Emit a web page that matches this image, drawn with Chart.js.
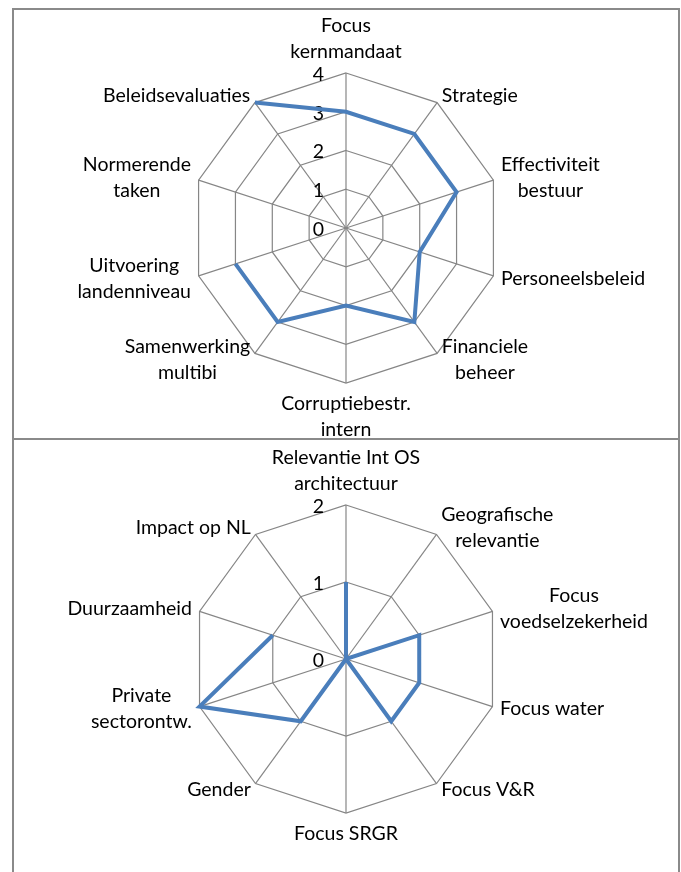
<!DOCTYPE html>
<html>
<head>
<meta charset="utf-8">
<script src="https://cdn.jsdelivr.net/npm/chart.js@4.4.1/dist/chart.umd.min.js"></script>
<style>
  html, body { margin: 0; padding: 0; background: #fff; width: 681px; height: 872px; overflow: hidden; }
  .box { position: absolute; box-sizing: border-box; border: 2px solid #8a8a8a; background: #fff; }
  canvas { position: absolute; }
</style>
</head>
<body>
<div class="box" style="left:12px; top:8px; width:668px; height:433px;"></div>
<div class="box" style="left:12px; top:438px; width:668px; height:460px;"></div>
<canvas id="c1" width="664" height="430" style="left:14px; top:10px;"></canvas>
<canvas id="c2" width="664" height="432" style="left:14px; top:440px;"></canvas>
<script>
// ---- Data: top chart ----
const topCategories = [
  ["Focus", "kernmandaat"], "Strategie", ["Effectiviteit", "bestuur"], "Personeelsbeleid",
  ["Financiele", "beheer"], ["Corruptiebestr.", "intern"], ["Samenwerking", "multibi"],
  ["Uitvoering", "landenniveau"], ["Normerende", "taken"], "Beleidsevaluaties"
];
const topValues = [3, 3, 3, 2, 3, 2, 3, 3, null, 4];
const topTicks = [0, 1, 2, 3, 4];

// ---- Data: bottom chart ----
const bottomCategories = [
  ["Relevantie Int OS", "architectuur"], ["Geografische", "relevantie"], ["Focus", "voedselzekerheid"],
  "Focus water", "Focus V&R", "Focus SRGR", "Gender", ["Private", "sectorontw."],
  "Duurzaamheid", "Impact op NL"
];
const bottomValues = [1, 0, 1, 1, 1, 0, 1, 2, 1, null];
const bottomTicks = [0, 1, 2];

const FONT_FAMILY = "Lato, 'Open Sans', sans-serif";
const FONT_SIZE = 19.5;
const LINE_H = 26;
const GRID = '#868686';
const LINE_COLOR = '#4A7EBB';

const excelLabels = {
  id: 'excelLabels',
  beforeDatasetsDraw(chart) {
    const scale = chart.scales.r;
    const ctx = chart.ctx;
    ctx.save();
    ctx.font = FONT_SIZE + 'px ' + FONT_FAMILY;
    ctx.fillStyle = '#000';
    ctx.textBaseline = 'middle';
    ctx.textAlign = 'right';
    scale.ticks.forEach(t => {
      const d = scale.getDistanceFromCenterForValue(t.value);
      ctx.fillText(String(t.label), scale.xCenter - 22, scale.yCenter - d + 1.5);
    });
    ctx.restore();
  },
  afterDraw(chart) {
    const scale = chart.scales.r;
    const ctx = chart.ctx;
    const labels = chart.data.labels;
    const n = labels.length;
    ctx.save();
    ctx.font = FONT_SIZE + 'px ' + FONT_FAMILY;
    ctx.fillStyle = '#000';
    ctx.textBaseline = 'middle';
    ctx.textAlign = 'center';
    for (let i = 0; i < n; i++) {
      const lines = [].concat(labels[i]);
      const p = scale.getPointPosition(i, scale.drawingArea + 8);
      const bw = Math.max(...lines.map(l => ctx.measureText(l).width));
      const bh = lines.length * LINE_H;
      const ang = Math.round(i * 360 / n);
      let left, top;
      if (ang === 0) { left = p.x - bw / 2; top = p.y - bh; }
      else if (ang === 180) { left = p.x - bw / 2; top = p.y; }
      else if (ang < 180) { left = p.x; top = p.y - bh / 2; }
      else { left = p.x - bw; top = p.y - bh / 2; }
      lines.forEach((l, k) => ctx.fillText(l, left + bw / 2, top + LINE_H * (k + 0.5)));
    }
    ctx.restore();
  }
};

function makeRadar(id, categories, values, ticks, padding) {
  return new Chart(document.getElementById(id), {
    type: 'radar',
    data: {
      labels: categories,
      datasets: [{
        data: values,
        borderColor: LINE_COLOR,
        borderWidth: 4,
        pointRadius: 0,
        pointHoverRadius: 0,
        fill: false,
        spanGaps: false,
        tension: 0
      }]
    },
    options: {
      responsive: false,
      animation: false,
      devicePixelRatio: 1,
      layout: { padding: padding },
      plugins: { legend: { display: false }, tooltip: { enabled: false } },
      scales: {
        r: {
          min: ticks[0],
          max: ticks[ticks.length - 1],
          afterBuildTicks: (s) => { s.ticks = ticks.map(v => ({ value: v })); },
          ticks: { display: false, stepSize: 1, showLabelBackdrop: false },
          pointLabels: { display: false },
          grid: { color: GRID, lineWidth: 1.2, circular: false },
          angleLines: { color: GRID, lineWidth: 1.2 }
        }
      }
    },
    plugins: [excelLabels]
  });
}

makeRadar('c1', topCategories, topValues, topTicks, { left: 177, right: 177, top: 63, bottom: 57 });
makeRadar('c2', bottomCategories, bottomValues, bottomTicks, { left: 178, right: 178, top: 65, bottom: 59 });
</script>
</body>
</html>
